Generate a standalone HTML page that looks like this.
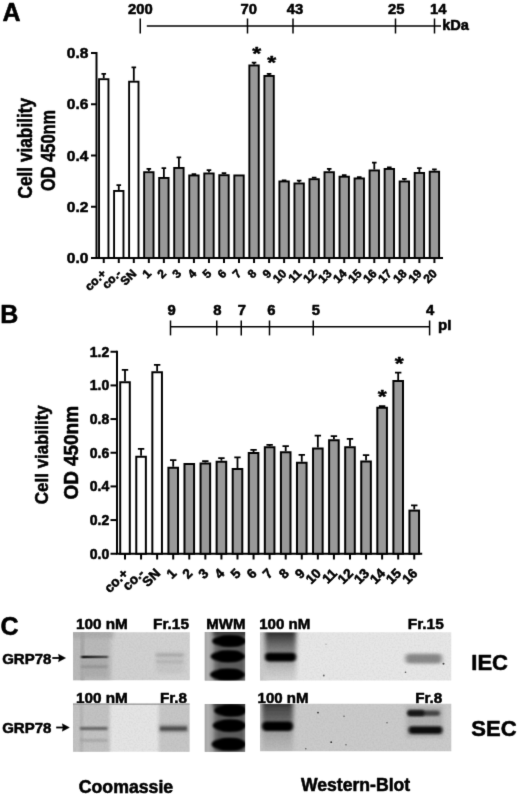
<!DOCTYPE html>
<html lang="en"><head><meta charset="utf-8"><title>Figure</title>
<style>html,body{margin:0;padding:0;background:#fff;}body{width:520px;height:794px;overflow:hidden;}svg{display:block;}text{font-family:"Liberation Sans", Arial, sans-serif;font-weight:bold;fill:#000;stroke:#000;stroke-width:0.55px;stroke-linejoin:round;}</style>
</head><body>
<svg id="fig" width="520" height="794" viewBox="0 0 520 794">
<defs>
<filter id="b1" x="-20%" y="-100%" width="140%" height="300%"><feGaussianBlur stdDeviation="1.2 0.9"/></filter>
<filter id="b2" x="-20%" y="-100%" width="140%" height="300%"><feGaussianBlur stdDeviation="2 1.6"/></filter>
<filter id="b3" x="-30%" y="-30%" width="160%" height="160%"><feGaussianBlur stdDeviation="3"/></filter>
<filter id="b15" x="-20%" y="-100%" width="140%" height="300%"><feGaussianBlur stdDeviation="1.5 1.2"/></filter>
<filter id="bx" x="-30%" y="-10%" width="160%" height="120%"><feGaussianBlur stdDeviation="2 0.01"/></filter>
<filter id="b05" x="-20%" y="-100%" width="140%" height="300%"><feGaussianBlur stdDeviation="0.8 0.6"/></filter>
<filter id="noise" x="0" y="0" width="100%" height="100%"><feTurbulence type="fractalNoise" baseFrequency="0.55" numOctaves="2" seed="3"/><feColorMatrix type="matrix" values="0 0 0 0 0  0 0 0 0 0  0 0 0 0 0  0.6 0 0 0 -0.22"/></filter>
<linearGradient id="gw1" x1="0" y1="0" x2="0" y2="1"><stop offset="0" stop-color="#2e2e2e"/><stop offset="0.1" stop-color="#444"/><stop offset="0.25" stop-color="#6a6a6a"/><stop offset="0.42" stop-color="#888"/><stop offset="0.62" stop-color="#aaa"/><stop offset="0.8" stop-color="#c4c4c4"/><stop offset="1" stop-color="#d4d4d4"/></linearGradient>
<linearGradient id="gw2" x1="0" y1="0" x2="0" y2="1"><stop offset="0" stop-color="#383838"/><stop offset="0.15" stop-color="#505050"/><stop offset="0.36" stop-color="#6a6a6a"/><stop offset="0.6" stop-color="#a0a0a0"/><stop offset="0.8" stop-color="#b0b0b0"/><stop offset="1" stop-color="#bcbcbc"/></linearGradient>
<linearGradient id="gband" x1="0" y1="0" x2="1" y2="0"><stop offset="0" stop-color="#1e1e1e"/><stop offset="0.4" stop-color="#333"/><stop offset="1" stop-color="#5e5e5e"/></linearGradient>
<linearGradient id="gm" x1="0" y1="0" x2="1" y2="0"><stop offset="0" stop-color="#a0a0a0"/><stop offset="0.1" stop-color="#b2b2b2"/><stop offset="0.2" stop-color="#9c9c9c"/><stop offset="0.28" stop-color="#707070"/><stop offset="0.36" stop-color="#5c5c5c"/><stop offset="0.9" stop-color="#5a5a5a"/><stop offset="1" stop-color="#808080"/></linearGradient>
<filter id="soft" filterUnits="userSpaceOnUse" x="0" y="0" width="520" height="794" color-interpolation-filters="sRGB"><feConvolveMatrix order="3" kernelMatrix="0.0100 0.0800 0.0100 0.0800 0.6400 0.0800 0.0100 0.0800 0.0100" edgeMode="duplicate" preserveAlpha="true"/></filter>
</defs>
<g filter="url(#soft)">
<rect width="520" height="794" fill="#fff"/>
<text x="2.6" y="20.6" font-size="25">A</text>
<text x="0.3" y="322.5" font-size="25">B</text>
<text x="0.6" y="634.8" font-size="25">C</text>
<g stroke="#000" stroke-width="1.5" fill="none">
<path d="M146.8 26H441"/>
<path d="M140.25 18.5V33.5"/>
<path d="M247.5 18.5V33.5"/>
<path d="M293 18.5V33.5"/>
<path d="M395.5 18.5V33.5"/>
<path d="M434.5 18.5V33.5"/>
</g>
<text x="140.4" y="14.2" font-size="14.8" text-anchor="middle">200</text>
<text x="248.75" y="14.2" font-size="14.8" text-anchor="middle">70</text>
<text x="295" y="14.2" font-size="14.8" text-anchor="middle">43</text>
<text x="396.25" y="14.2" font-size="14.8" text-anchor="middle">25</text>
<text x="438.25" y="14.2" font-size="14.8" text-anchor="middle">14</text>
<text x="442.2" y="30.2" font-size="14.6">kDa</text>
<g stroke="#000" stroke-width="2" fill="none">
<path d="M96.5 52.0V258.0"/>
<path d="M95.6 258.0H443"/>
<path d="M91 258.00H96.5"/>
<path d="M91 206.75H96.5"/>
<path d="M91 155.50H96.5"/>
<path d="M91 104.25H96.5"/>
<path d="M91 53.00H96.5"/>
<path d="M103.75 258.0V263.0"/>
<path d="M118.78 258.0V263.0"/>
<path d="M133.81 258.0V263.0"/>
<path d="M148.84 258.0V263.0"/>
<path d="M163.87 258.0V263.0"/>
<path d="M178.90 258.0V263.0"/>
<path d="M193.93 258.0V263.0"/>
<path d="M208.96 258.0V263.0"/>
<path d="M223.99 258.0V263.0"/>
<path d="M239.02 258.0V263.0"/>
<path d="M254.05 258.0V263.0"/>
<path d="M269.08 258.0V263.0"/>
<path d="M284.11 258.0V263.0"/>
<path d="M299.14 258.0V263.0"/>
<path d="M314.17 258.0V263.0"/>
<path d="M329.20 258.0V263.0"/>
<path d="M344.23 258.0V263.0"/>
<path d="M359.26 258.0V263.0"/>
<path d="M374.29 258.0V263.0"/>
<path d="M389.32 258.0V263.0"/>
<path d="M404.35 258.0V263.0"/>
<path d="M419.38 258.0V263.0"/>
<path d="M434.41 258.0V263.0"/>
</g>
<text x="88.4" y="263.00" font-size="15.5" text-anchor="end">0.0</text>
<text x="88.4" y="211.75" font-size="15.5" text-anchor="end">0.2</text>
<text x="88.4" y="160.50" font-size="15.5" text-anchor="end">0.4</text>
<text x="88.4" y="109.25" font-size="15.5" text-anchor="end">0.6</text>
<text x="88.4" y="58.00" font-size="15.5" text-anchor="end">0.8</text>
<rect x="99.05" y="79.20" width="9.40" height="178.80" fill="#fff" stroke="#000" stroke-width="1.9"/>
<path d="M103.75 78.25V73.85M101.45 73.85H106.05" stroke="#000" stroke-width="1.8" fill="none"/>
<rect x="114.08" y="190.95" width="9.40" height="67.05" fill="#fff" stroke="#000" stroke-width="1.9"/>
<path d="M118.78 190.00V185.10M116.48 185.10H121.08" stroke="#000" stroke-width="1.8" fill="none"/>
<rect x="129.11" y="81.70" width="9.40" height="176.30" fill="#fff" stroke="#000" stroke-width="1.9"/>
<path d="M133.81 80.75V67.35M131.51 67.35H136.11" stroke="#000" stroke-width="1.8" fill="none"/>
<rect x="144.14" y="172.20" width="9.40" height="85.80" fill="#999" stroke="#000" stroke-width="1.9"/>
<path d="M148.84 171.25V168.85M146.54 168.85H151.14" stroke="#000" stroke-width="1.8" fill="none"/>
<rect x="159.17" y="177.95" width="9.40" height="80.05" fill="#999" stroke="#000" stroke-width="1.9"/>
<path d="M163.87 177.00V168.10M161.57 168.10H166.17" stroke="#000" stroke-width="1.8" fill="none"/>
<rect x="174.20" y="167.95" width="9.40" height="90.05" fill="#999" stroke="#000" stroke-width="1.9"/>
<path d="M178.90 167.00V157.35M176.60 157.35H181.20" stroke="#000" stroke-width="1.8" fill="none"/>
<rect x="189.23" y="175.45" width="9.40" height="82.55" fill="#999" stroke="#000" stroke-width="1.9"/>
<path d="M193.93 174.50V174.10M191.63 174.10H196.23" stroke="#000" stroke-width="1.8" fill="none"/>
<rect x="204.26" y="173.45" width="9.40" height="84.55" fill="#999" stroke="#000" stroke-width="1.9"/>
<path d="M208.96 172.50V170.10M206.66 170.10H211.26" stroke="#000" stroke-width="1.8" fill="none"/>
<rect x="219.29" y="175.20" width="9.40" height="82.80" fill="#999" stroke="#000" stroke-width="1.9"/>
<path d="M223.99 174.25V173.10M221.69 173.10H226.29" stroke="#000" stroke-width="1.8" fill="none"/>
<rect x="234.32" y="175.45" width="9.40" height="82.55" fill="#999" stroke="#000" stroke-width="1.9"/>
<rect x="249.35" y="65.45" width="9.40" height="192.55" fill="#999" stroke="#000" stroke-width="1.9"/>
<path d="M254.05 64.50V62.60M251.75 62.60H256.35" stroke="#000" stroke-width="1.8" fill="none"/>
<rect x="264.38" y="75.95" width="9.40" height="182.05" fill="#999" stroke="#000" stroke-width="1.9"/>
<path d="M269.08 75.00V73.85M266.78 73.85H271.38" stroke="#000" stroke-width="1.8" fill="none"/>
<rect x="279.41" y="181.45" width="9.40" height="76.55" fill="#999" stroke="#000" stroke-width="1.9"/>
<path d="M284.11 180.50V180.40M281.81 180.40H286.41" stroke="#000" stroke-width="1.8" fill="none"/>
<rect x="294.44" y="183.45" width="9.40" height="74.55" fill="#999" stroke="#000" stroke-width="1.9"/>
<path d="M299.14 182.50V180.60M296.84 180.60H301.44" stroke="#000" stroke-width="1.8" fill="none"/>
<rect x="309.47" y="179.20" width="9.40" height="78.80" fill="#999" stroke="#000" stroke-width="1.9"/>
<path d="M314.17 178.25V177.60M311.87 177.60H316.47" stroke="#000" stroke-width="1.8" fill="none"/>
<rect x="324.50" y="172.20" width="9.40" height="85.80" fill="#999" stroke="#000" stroke-width="1.9"/>
<path d="M329.20 171.25V168.85M326.90 168.85H331.50" stroke="#000" stroke-width="1.8" fill="none"/>
<rect x="339.53" y="176.70" width="9.40" height="81.30" fill="#999" stroke="#000" stroke-width="1.9"/>
<path d="M344.23 175.75V175.10M341.93 175.10H346.53" stroke="#000" stroke-width="1.8" fill="none"/>
<rect x="354.56" y="178.45" width="9.40" height="79.55" fill="#999" stroke="#000" stroke-width="1.9"/>
<path d="M359.26 177.50V177.20M356.96 177.20H361.56" stroke="#000" stroke-width="1.8" fill="none"/>
<rect x="369.59" y="170.45" width="9.40" height="87.55" fill="#999" stroke="#000" stroke-width="1.9"/>
<path d="M374.29 169.50V162.60M371.99 162.60H376.59" stroke="#000" stroke-width="1.8" fill="none"/>
<rect x="384.62" y="168.95" width="9.40" height="89.05" fill="#999" stroke="#000" stroke-width="1.9"/>
<path d="M389.32 168.00V167.35M387.02 167.35H391.62" stroke="#000" stroke-width="1.8" fill="none"/>
<rect x="399.65" y="181.45" width="9.40" height="76.55" fill="#999" stroke="#000" stroke-width="1.9"/>
<path d="M404.35 180.50V178.85M402.05 178.85H406.65" stroke="#000" stroke-width="1.8" fill="none"/>
<rect x="414.68" y="172.95" width="9.40" height="85.05" fill="#999" stroke="#000" stroke-width="1.9"/>
<path d="M419.38 172.00V168.10M417.08 168.10H421.68" stroke="#000" stroke-width="1.8" fill="none"/>
<rect x="429.71" y="171.70" width="9.40" height="86.30" fill="#999" stroke="#000" stroke-width="1.9"/>
<path d="M434.41 170.75V169.35M432.11 169.35H436.71" stroke="#000" stroke-width="1.8" fill="none"/>
<text transform="translate(106.95 274.3) rotate(-45)" font-size="12" text-anchor="end">co.+</text>
<text transform="translate(121.98 274.3) rotate(-45)" font-size="12" text-anchor="end">co.-</text>
<text transform="translate(137.01 274.3) rotate(-45)" font-size="12" text-anchor="end">SN</text>
<text transform="translate(152.04 274.3) rotate(-45)" font-size="12" text-anchor="end">1</text>
<text transform="translate(167.07 274.3) rotate(-45)" font-size="12" text-anchor="end">2</text>
<text transform="translate(182.10 274.3) rotate(-45)" font-size="12" text-anchor="end">3</text>
<text transform="translate(197.13 274.3) rotate(-45)" font-size="12" text-anchor="end">4</text>
<text transform="translate(212.16 274.3) rotate(-45)" font-size="12" text-anchor="end">5</text>
<text transform="translate(227.19 274.3) rotate(-45)" font-size="12" text-anchor="end">6</text>
<text transform="translate(242.22 274.3) rotate(-45)" font-size="12" text-anchor="end">7</text>
<text transform="translate(257.25 274.3) rotate(-45)" font-size="12" text-anchor="end">8</text>
<text transform="translate(272.28 274.3) rotate(-45)" font-size="12" text-anchor="end">9</text>
<text transform="translate(287.31 274.3) rotate(-45)" font-size="12" text-anchor="end">10</text>
<text transform="translate(302.34 274.3) rotate(-45)" font-size="12" text-anchor="end">11</text>
<text transform="translate(317.37 274.3) rotate(-45)" font-size="12" text-anchor="end">12</text>
<text transform="translate(332.40 274.3) rotate(-45)" font-size="12" text-anchor="end">13</text>
<text transform="translate(347.43 274.3) rotate(-45)" font-size="12" text-anchor="end">14</text>
<text transform="translate(362.46 274.3) rotate(-45)" font-size="12" text-anchor="end">15</text>
<text transform="translate(377.49 274.3) rotate(-45)" font-size="12" text-anchor="end">16</text>
<text transform="translate(392.52 274.3) rotate(-45)" font-size="12" text-anchor="end">17</text>
<text transform="translate(407.55 274.3) rotate(-45)" font-size="12" text-anchor="end">18</text>
<text transform="translate(422.58 274.3) rotate(-45)" font-size="12" text-anchor="end">19</text>
<text transform="translate(437.61 274.3) rotate(-45)" font-size="12" text-anchor="end">20</text>
<text transform="translate(256.65 50.4) scale(1 0.78)" x="0" y="12.05" font-size="23" text-anchor="middle">*</text>
<text transform="translate(271.65 59.4) scale(1 0.78)" x="0" y="12.05" font-size="23" text-anchor="middle">*</text>
<text transform="translate(32.3 148.2) rotate(-90)" font-size="19.5" text-anchor="middle" textLength="100.5" lengthAdjust="spacingAndGlyphs">Cell viability</text>
<text transform="translate(54.8 150.4) rotate(-90)" font-size="19.5" text-anchor="middle" textLength="81" lengthAdjust="spacingAndGlyphs">OD 450nm</text>
<g stroke="#000" stroke-width="1.5" fill="none">
<path d="M170.5 326.8H429.6"/>
<path d="M170.5 320.5V335.4"/>
<path d="M216.75 320.5V335.4"/>
<path d="M241.25 320.5V335.4"/>
<path d="M269.5 320.5V335.4"/>
<path d="M313.25 320.5V335.4"/>
<path d="M429.6 320.5V335.4"/>
</g>
<text x="171.5" y="315.3" font-size="14.8" text-anchor="middle">9</text>
<text x="217.25" y="315.3" font-size="14.8" text-anchor="middle">8</text>
<text x="241.75" y="315.3" font-size="14.8" text-anchor="middle">7</text>
<text x="271.25" y="315.3" font-size="14.8" text-anchor="middle">6</text>
<text x="315.75" y="315.3" font-size="14.8" text-anchor="middle">5</text>
<text x="430" y="315.3" font-size="14.8" text-anchor="middle">4</text>
<text x="438" y="330.2" font-size="15">pI</text>
<g stroke="#000" stroke-width="2" fill="none">
<path d="M117.0 350.75V553.75"/>
<path d="M116.1 553.75H422.2"/>
<path d="M110.5 553.75H117.0"/>
<path d="M110.5 520.08H117.0"/>
<path d="M110.5 486.42H117.0"/>
<path d="M110.5 452.75H117.0"/>
<path d="M110.5 419.08H117.0"/>
<path d="M110.5 385.42H117.0"/>
<path d="M110.5 351.75H117.0"/>
<path d="M125.00 553.75V559.5"/>
<path d="M141.07 553.75V559.5"/>
<path d="M157.14 553.75V559.5"/>
<path d="M173.21 553.75V559.5"/>
<path d="M189.28 553.75V559.5"/>
<path d="M205.35 553.75V559.5"/>
<path d="M221.42 553.75V559.5"/>
<path d="M237.49 553.75V559.5"/>
<path d="M253.56 553.75V559.5"/>
<path d="M269.63 553.75V559.5"/>
<path d="M285.70 553.75V559.5"/>
<path d="M301.77 553.75V559.5"/>
<path d="M317.84 553.75V559.5"/>
<path d="M333.91 553.75V559.5"/>
<path d="M349.98 553.75V559.5"/>
<path d="M366.05 553.75V559.5"/>
<path d="M382.12 553.75V559.5"/>
<path d="M398.19 553.75V559.5"/>
<path d="M414.26 553.75V559.5"/>
</g>
<text x="109.3" y="558.75" font-size="14" text-anchor="end">0.0</text>
<text x="109.3" y="525.08" font-size="14" text-anchor="end">0.2</text>
<text x="109.3" y="491.42" font-size="14" text-anchor="end">0.4</text>
<text x="109.3" y="457.75" font-size="14" text-anchor="end">0.6</text>
<text x="109.3" y="424.08" font-size="14" text-anchor="end">0.8</text>
<text x="109.3" y="390.42" font-size="14" text-anchor="end">1.0</text>
<text x="109.3" y="356.75" font-size="14" text-anchor="end">1.2</text>
<rect x="120.20" y="382.25" width="9.60" height="171.50" fill="#fff" stroke="#000" stroke-width="2.0"/>
<path d="M125.00 381.25V369.85M121.80 369.85H128.20" stroke="#000" stroke-width="1.8" fill="none"/>
<rect x="136.27" y="456.75" width="9.60" height="97.00" fill="#fff" stroke="#000" stroke-width="2.0"/>
<path d="M141.07 455.75V448.85M137.87 448.85H144.27" stroke="#000" stroke-width="1.8" fill="none"/>
<rect x="152.34" y="372.25" width="9.60" height="181.50" fill="#fff" stroke="#000" stroke-width="2.0"/>
<path d="M157.14 371.25V364.85M153.94 364.85H160.34" stroke="#000" stroke-width="1.8" fill="none"/>
<rect x="168.41" y="467.75" width="9.60" height="86.00" fill="#999" stroke="#000" stroke-width="2.0"/>
<path d="M173.21 466.75V460.10M170.01 460.10H176.41" stroke="#000" stroke-width="1.8" fill="none"/>
<rect x="184.48" y="464.00" width="9.60" height="89.75" fill="#999" stroke="#000" stroke-width="2.0"/>
<rect x="200.55" y="463.50" width="9.60" height="90.25" fill="#999" stroke="#000" stroke-width="2.0"/>
<path d="M205.35 462.50V461.10M202.15 461.10H208.55" stroke="#000" stroke-width="1.8" fill="none"/>
<rect x="216.62" y="461.75" width="9.60" height="92.00" fill="#999" stroke="#000" stroke-width="2.0"/>
<path d="M221.42 460.75V458.10M218.22 458.10H224.62" stroke="#000" stroke-width="1.8" fill="none"/>
<rect x="232.69" y="469.00" width="9.60" height="84.75" fill="#999" stroke="#000" stroke-width="2.0"/>
<path d="M237.49 468.00V457.35M234.29 457.35H240.69" stroke="#000" stroke-width="1.8" fill="none"/>
<rect x="248.76" y="453.00" width="9.60" height="100.75" fill="#999" stroke="#000" stroke-width="2.0"/>
<path d="M253.56 452.00V449.85M250.36 449.85H256.76" stroke="#000" stroke-width="1.8" fill="none"/>
<rect x="264.83" y="447.25" width="9.60" height="106.50" fill="#999" stroke="#000" stroke-width="2.0"/>
<path d="M269.63 446.25V444.85M266.43 444.85H272.83" stroke="#000" stroke-width="1.8" fill="none"/>
<rect x="280.90" y="452.25" width="9.60" height="101.50" fill="#999" stroke="#000" stroke-width="2.0"/>
<path d="M285.70 451.25V446.10M282.50 446.10H288.90" stroke="#000" stroke-width="1.8" fill="none"/>
<rect x="296.97" y="462.75" width="9.60" height="91.00" fill="#999" stroke="#000" stroke-width="2.0"/>
<path d="M301.77 461.75V454.85M298.57 454.85H304.97" stroke="#000" stroke-width="1.8" fill="none"/>
<rect x="313.04" y="448.50" width="9.60" height="105.25" fill="#999" stroke="#000" stroke-width="2.0"/>
<path d="M317.84 447.50V435.60M314.64 435.60H321.04" stroke="#000" stroke-width="1.8" fill="none"/>
<rect x="329.11" y="440.25" width="9.60" height="113.50" fill="#999" stroke="#000" stroke-width="2.0"/>
<path d="M333.91 439.25V436.10M330.71 436.10H337.11" stroke="#000" stroke-width="1.8" fill="none"/>
<rect x="345.18" y="447.25" width="9.60" height="106.50" fill="#999" stroke="#000" stroke-width="2.0"/>
<path d="M349.98 446.25V438.85M346.78 438.85H353.18" stroke="#000" stroke-width="1.8" fill="none"/>
<rect x="361.25" y="461.50" width="9.60" height="92.25" fill="#999" stroke="#000" stroke-width="2.0"/>
<path d="M366.05 460.50V455.10M362.85 455.10H369.25" stroke="#000" stroke-width="1.8" fill="none"/>
<rect x="377.32" y="407.75" width="9.60" height="146.00" fill="#999" stroke="#000" stroke-width="2.0"/>
<path d="M382.12 406.75V406.10M378.92 406.10H385.32" stroke="#000" stroke-width="1.8" fill="none"/>
<rect x="393.39" y="381.00" width="9.60" height="172.75" fill="#999" stroke="#000" stroke-width="2.0"/>
<path d="M398.19 380.00V372.60M394.99 372.60H401.39" stroke="#000" stroke-width="1.8" fill="none"/>
<rect x="409.46" y="510.60" width="9.60" height="43.15" fill="#999" stroke="#000" stroke-width="2.0"/>
<path d="M414.26 509.60V505.30M411.06 505.30H417.46" stroke="#000" stroke-width="1.8" fill="none"/>
<text transform="translate(129.00 574.2) rotate(-45)" font-size="13.5" text-anchor="end">co.+</text>
<text transform="translate(145.07 574.2) rotate(-45)" font-size="13.5" text-anchor="end">co.-</text>
<text transform="translate(161.14 574.2) rotate(-45)" font-size="13.5" text-anchor="end">SN</text>
<text transform="translate(177.21 574.2) rotate(-45)" font-size="13.5" text-anchor="end">1</text>
<text transform="translate(193.28 574.2) rotate(-45)" font-size="13.5" text-anchor="end">2</text>
<text transform="translate(209.35 574.2) rotate(-45)" font-size="13.5" text-anchor="end">3</text>
<text transform="translate(225.42 574.2) rotate(-45)" font-size="13.5" text-anchor="end">4</text>
<text transform="translate(241.49 574.2) rotate(-45)" font-size="13.5" text-anchor="end">5</text>
<text transform="translate(257.56 574.2) rotate(-45)" font-size="13.5" text-anchor="end">6</text>
<text transform="translate(273.63 574.2) rotate(-45)" font-size="13.5" text-anchor="end">7</text>
<text transform="translate(289.70 574.2) rotate(-45)" font-size="13.5" text-anchor="end">8</text>
<text transform="translate(305.77 574.2) rotate(-45)" font-size="13.5" text-anchor="end">9</text>
<text transform="translate(321.84 574.2) rotate(-45)" font-size="13.5" text-anchor="end">10</text>
<text transform="translate(337.91 574.2) rotate(-45)" font-size="13.5" text-anchor="end">11</text>
<text transform="translate(353.98 574.2) rotate(-45)" font-size="13.5" text-anchor="end">12</text>
<text transform="translate(370.05 574.2) rotate(-45)" font-size="13.5" text-anchor="end">13</text>
<text transform="translate(386.12 574.2) rotate(-45)" font-size="13.5" text-anchor="end">14</text>
<text transform="translate(402.19 574.2) rotate(-45)" font-size="13.5" text-anchor="end">15</text>
<text transform="translate(418.26 574.2) rotate(-45)" font-size="13.5" text-anchor="end">16</text>
<text transform="translate(382.3 393.7) scale(1 0.78)" x="0" y="12.05" font-size="23" text-anchor="middle">*</text>
<text transform="translate(399.3 361) scale(1 0.78)" x="0" y="12.05" font-size="23" text-anchor="middle">*</text>
<text transform="translate(48.3 454.7) rotate(-90)" font-size="17.7" text-anchor="middle" textLength="99" lengthAdjust="spacingAndGlyphs">Cell viability</text>
<text transform="translate(78 452.8) rotate(-90)" font-size="19.5" text-anchor="middle" textLength="93.5" lengthAdjust="spacingAndGlyphs">OD 450nm</text>
<text x="75.9" y="629" font-size="15.3">100 nM</text>
<text x="153" y="629" font-size="15.4">Fr.15</text>
<text x="206.3" y="629" font-size="15">MWM</text>
<text x="259.2" y="629" font-size="15.1">100 nM</text>
<text x="407.8" y="628.8" font-size="15.4">Fr.15</text>
<text x="75.9" y="703" font-size="15.3">100 nM</text>
<text x="160" y="703" font-size="15.2">Fr.8</text>
<text x="257.6" y="702.8" font-size="15.3" textLength="51" lengthAdjust="spacingAndGlyphs">100 nM</text>
<text x="415.2" y="702.6" font-size="15.2">Fr.8</text>
<text x="2.2" y="663.5" font-size="15">GRP78</text>
<text x="2.2" y="733.2" font-size="15">GRP78</text>
<path d="M52.3 658H61.5" stroke="#000" stroke-width="1.8"/><path d="M58.5 654.3L65.5 658L58.5 661.7L59.3 658Z" fill="#000" stroke="#000" stroke-width="0.5" stroke-linejoin="round"/>
<path d="M56.2 727.5H65.3" stroke="#000" stroke-width="1.8"/><path d="M62.3 723.8L69.3 727.5L62.3 731.2L63.099999999999994 727.5Z" fill="#000" stroke="#000" stroke-width="0.5" stroke-linejoin="round"/>
<text x="471.3" y="669.5" font-size="22">IEC</text>
<text x="471.3" y="736" font-size="22">SEC</text>
<text x="78.8" y="792.6" font-size="17.7">Coomassie</text>
<text x="301" y="791.3" font-size="17.6">Western-Blot</text>
<svg x="73.1" y="632.3" width="116.7" height="48" viewBox="0 0 116.7 48" overflow="hidden">
<rect x="-1" y="-1" width="118.7" height="50" fill="#d1d1d1"/>
<rect x="-6" y="-6" width="44" height="60" fill="#b9b9b9" filter="url(#b2)"/>
<rect x="-6" y="-8" width="46" height="14" fill="#adadad" filter="url(#b2)"/>
<rect x="7.6" y="-6" width="3.4" height="60" fill="#a4a4a4" filter="url(#b1)"/>
<rect x="8" y="25" width="27" height="20" fill="#adadad" filter="url(#b2)"/>
<rect x="8.2" y="23.3" width="26.8" height="2.7" fill="url(#gband)" filter="url(#b05)"/>
<rect x="8.2" y="33.2" width="26.5" height="2.4" fill="#909090" filter="url(#b1)"/>
<rect x="83" y="19" width="28" height="22" fill="#c6c6c6" filter="url(#b2)"/>
<rect x="83" y="21.4" width="27.5" height="2.8" fill="#a8a8a8" filter="url(#b15)"/>
<rect x="83" y="28" width="27.5" height="2.8" fill="#b4b4b4" filter="url(#b15)"/>
<rect width="116.7" height="48" filter="url(#noise)" opacity="0.14"/>
</svg>
<svg x="73" y="703.5" width="116.5" height="48.2" viewBox="0 0 116.5 48.2" overflow="hidden">
<rect x="-1" y="-1" width="118.5" height="50.2" fill="#e4e4e4"/>
<rect x="-6" y="-6" width="43" height="60.2" fill="#c2c2c2" filter="url(#b15)"/>
<rect x="7" y="-6" width="3" height="60.2" fill="#b2b2b2" filter="url(#b1)"/>
<rect x="85.7" y="-6" width="40" height="60.2" fill="#c6c6c6" filter="url(#b15)"/>
<rect x="-6" y="-2.4" width="128.5" height="3.8" fill="#999" opacity="0.9" filter="url(#b05)"/>
<rect x="7" y="23.6" width="27.5" height="2.8" fill="#585858" filter="url(#b1)"/>
<rect x="7" y="35.8" width="27.5" height="2.2" fill="#a0a0a0" filter="url(#b1)"/>
<rect x="86.5" y="20.5" width="28" height="9" fill="#a8a8a8" filter="url(#b2)"/>
<rect x="87" y="23" width="27" height="4.2" fill="#4a4a4a" filter="url(#b1)"/>
<rect width="116.5" height="48.2" filter="url(#noise)" opacity="0.14"/>
</svg>
<svg x="204.8" y="632" width="40.3" height="48.6" viewBox="0 0 40.3 48.6" overflow="hidden">
<rect x="-1" y="-1" width="42.3" height="50.6" fill="#b0b0b0"/>
<rect x="-1" y="-1" width="42.3" height="50.6" fill="url(#gm)"/>
<rect x="9" y="-6" width="40.3" height="10" fill="#3c3c3c" filter="url(#b2)"/>
<ellipse cx="24.5" cy="9" rx="17.2" ry="5.8" fill="#040404" filter="url(#b1)"/>
<rect x="14.5" y="4.1" width="23.0" height="9.8" rx="4.9" fill="#040404" filter="url(#b1)"/>
<ellipse cx="23.1" cy="24.3" rx="17.3" ry="5.9" fill="#040404" filter="url(#b1)"/>
<rect x="13.0" y="19.3" width="23.3" height="10.0" rx="5.0" fill="#040404" filter="url(#b1)"/>
<ellipse cx="22.8" cy="42.6" rx="17.6" ry="5.9" fill="#040404" filter="url(#b1)"/>
<rect x="12.4" y="37.6" width="23.9" height="10.0" rx="5.0" fill="#040404" filter="url(#b1)"/>
</svg>
<svg x="204.8" y="704" width="40.3" height="47.7" viewBox="0 0 40.3 47.7" overflow="hidden">
<rect x="-1" y="-1" width="42.3" height="49.7" fill="#b0b0b0"/>
<rect x="-1" y="-1" width="42.3" height="49.7" fill="url(#gm)"/>
<rect x="9" y="-6" width="40.3" height="10" fill="#3c3c3c" filter="url(#b2)"/>
<ellipse cx="26.0" cy="6.5" rx="16.7" ry="5.9" fill="#040404" filter="url(#b1)"/>
<rect x="16.5" y="1.5" width="22.0" height="10.0" rx="5.0" fill="#040404" filter="url(#b1)"/>
<ellipse cx="24.8" cy="21.6" rx="16.9" ry="6.1" fill="#040404" filter="url(#b1)"/>
<rect x="15.0" y="16.4" width="22.5" height="10.4" rx="5.2" fill="#040404" filter="url(#b1)"/>
<ellipse cx="24.2" cy="40.2" rx="17.4" ry="6.3" fill="#040404" filter="url(#b1)"/>
<rect x="14.0" y="34.8" width="23.5" height="10.8" rx="5.4" fill="#040404" filter="url(#b1)"/>
</svg>
<svg x="260" y="632.2" width="191.3" height="48.2" viewBox="0 0 191.3 48.2" overflow="hidden">
<rect x="-1" y="-1" width="193.3" height="50.2" fill="#e6e6e6"/>
<rect x="-4" y="-6" width="12" height="60.2" fill="#cacaca" filter="url(#b2)"/>
<rect x="5" y="0" width="31" height="48.2" fill="url(#gw1)" filter="url(#bx)"/>
<rect x="5" y="20.6" width="31" height="8.6" rx="3.8" fill="#030303" filter="url(#b15)"/>
<rect x="145.5" y="21.6" width="36.5" height="9.6" rx="4" fill="#888" filter="url(#b2)"/>
<circle cx="63.8" cy="43.3" r="0.9" fill="#666"/><circle cx="183.5" cy="31.5" r="1" fill="#444"/><circle cx="145.5" cy="40" r="0.8" fill="#555"/><circle cx="66" cy="12" r="0.6" fill="#999"/>
<rect width="191.3" height="48.2" filter="url(#noise)" opacity="0.14"/>
</svg>
<svg x="260" y="703.8" width="191.3" height="47.4" viewBox="0 0 191.3 47.4" overflow="hidden">
<rect x="-1" y="-1" width="193.3" height="49.4" fill="#cacaca"/>
<rect x="146" y="2" width="37" height="32" fill="#b0b0b0" filter="url(#b2)"/>
<rect x="2" y="0" width="31" height="47.4" fill="url(#gw2)" filter="url(#bx)"/>
<rect x="2" y="17.8" width="31" height="9.4" rx="4.2" fill="#030303" filter="url(#b15)"/>
<rect x="147.5" y="6.6" width="32.5" height="5.6" rx="2.4" fill="#444" filter="url(#b15)"/>
<rect x="147.5" y="6.4" width="17" height="5.8" rx="2.4" fill="#141414" filter="url(#b1)"/>
<rect x="148.6" y="22.4" width="33.8" height="7.8" rx="3.4" fill="#0a0a0a" filter="url(#b15)"/>
<circle cx="58" cy="8.8" r="0.9" fill="#333"/><circle cx="71.2" cy="38.4" r="0.9" fill="#333"/><circle cx="45.8" cy="45" r="0.7" fill="#555"/><circle cx="127" cy="19" r="0.7" fill="#555"/><circle cx="84" cy="12.5" r="0.7" fill="#555"/><circle cx="86" cy="41" r="0.7" fill="#555"/>
<rect width="191.3" height="47.4" filter="url(#noise)" opacity="0.14"/>
</svg>
</g></svg></body></html>
